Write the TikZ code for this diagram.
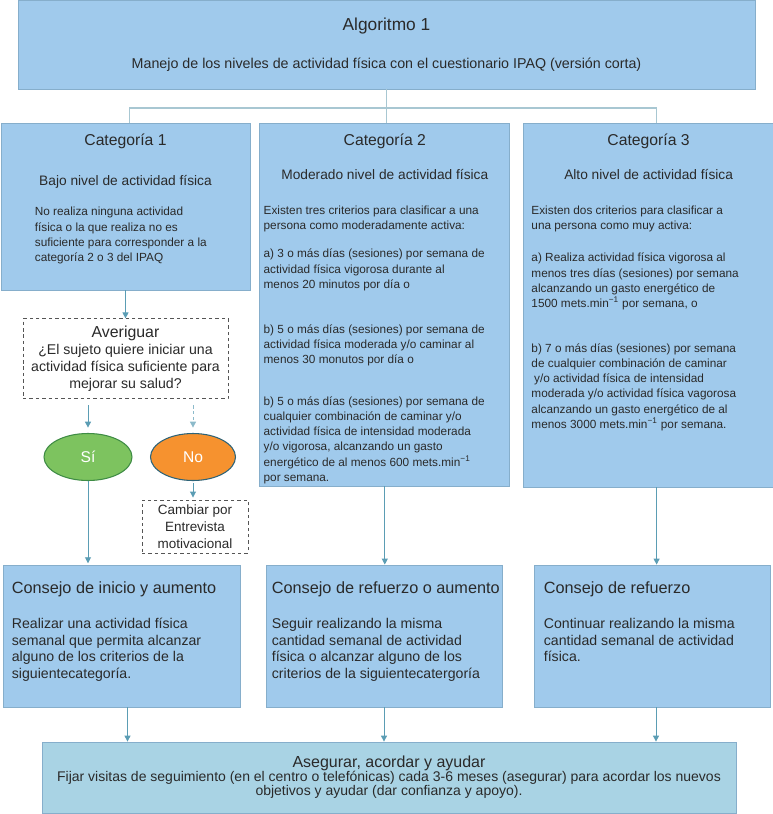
\documentclass[tikz,border=0pt]{standalone}
\usepackage{fontspec}
\setmainfont{Liberation Sans}
\usetikzlibrary{positioning,arrows.meta,shapes.geometric}
\definecolor{cBox}{HTML}{A0CAEC}
\definecolor{cEdge}{HTML}{86AECB}
\definecolor{cFoot}{HTML}{A9D3E4}
\definecolor{cArr}{HTML}{5B9DB4}
\definecolor{cTree}{HTML}{A8C7D2}
\definecolor{cSi}{HTML}{7DC35F}
\definecolor{cSiE}{HTML}{3F8C45}
\definecolor{cNo}{HTML}{F6922F}
\definecolor{cNoE}{HTML}{2D6378}
\definecolor{cTxt}{HTML}{2A2A2A}
\definecolor{cDash}{HTML}{555555}
\newcommand{\minusone}{\textsuperscript{\char"2212 1}}

\begin{document}
\begin{tikzpicture}[x=0.75pt,y=-0.75pt,text=cTxt,
  bx/.style={draw=cEdge,fill=cBox,line width=.6pt,inner sep=0pt},
  ft/.style={bx,fill=cFoot},
  dq/.style={draw=cDash,dash pattern=on 2.6pt off 2.2pt,line width=.7pt,fill=white,inner sep=0pt,align=center,font=\fontsize{10.6}{12.75}\selectfont},
  ov/.style={ellipse,inner sep=0pt,line width=.8pt,minimum height=35.25pt,font=\fontsize{11.7}{14}\selectfont},
  hd/.style={font=\fontsize{11.8}{14}\selectfont,inner sep=0pt},
  sb/.style={font=\fontsize{10.3}{12}\selectfont,inner sep=0pt},
  tx/.style={font=\fontsize{8.85}{11.4}\selectfont,align=left,inner sep=0pt},
  cx/.style={font=\fontsize{10.6}{12.5}\selectfont,align=left,inner sep=0pt},
  ar/.style={-{Triangle[length=4.5pt,width=4.5pt]},cArr,line width=.7pt},
  tr/.style={cTree,line width=1.1pt}]
\useasboundingbox (0,0) rectangle (773,814);

% header
\node[bx,minimum width=552.75pt,minimum height=66.75pt,align=center,font=\fontsize{10.7}{12.8}\selectfont] (alg) at (386.5,44.5)
  {{\fontsize{13}{15}\selectfont Algoritmo 1}\\[15.7pt]Manejo de los niveles de actividad física con el cuestionario IPAQ (versión corta)};

% the three categories
\node[bx,minimum width=186.75pt,minimum height=125.25pt] (cat1) at (125.5,206.5) {};
\node[bx,right=6.75pt of cat1.north east,anchor=north west,minimum width=187.5pt,minimum height=272.25pt] (cat2) {};
\node[bx,right=9.75pt of cat2.north east,anchor=north west,minimum width=187.5pt,minimum height=273pt] (cat3) {};

\node[hd,below=14.25pt of cat1.north,anchor=center] (cat1h) {Categoría 1};
\node[sb,below=44.25pt of cat1.north,anchor=center] (cat1s) {Bajo nivel de actividad física};
\node[tx,below right=63.4pt and 25.5pt of cat1.north west] (cat1t)
  {No realiza ninguna actividad\\física o la que realiza no es\\suficiente para corresponder a la\\categoría 2 o 3 del IPAQ};

\node[hd,below=14.25pt of cat2.north,anchor=center] (cat2h) {Categoría 2};
\node[sb,below=39pt of cat2.north,anchor=center] (cat2s) {Moderado nivel de actividad física};
\node[tx,below right=62.5pt and 3pt of cat2.north west] (cat2t)
  {Existen tres criterios para clasificar a una\\persona como moderadamente activa:\\[9.5pt]
   a) 3 o más días (sesiones) por semana de\\actividad física vigorosa durante al\\menos 20 minutos por día o\\[22.25pt]
   b) 5 o más días (sesiones) por semana de\\actividad física moderada y/o caminar al\\menos 30 monutos por día o\\[20pt]
   b) 5 o más días (sesiones) por semana de\\cualquier combinación de caminar y/o\\actividad física de intensidad moderada\\y/o vigorosa, alcanzando un gasto\\energético de al menos 600 mets.min\minusone\\por semana.};

\node[hd,below=14.25pt of cat3.north,anchor=center] (cat3h) {Categoría 3};
\node[sb,below=39pt of cat3.north,anchor=center] (cat3s) {Alto nivel de actividad física};
\node[tx,below right=62.5pt and 6pt of cat3.north west] (cat3t)
  {Existen dos criterios para clasificar a\\una persona como muy activa:\\[12.5pt]
   a) Realiza actividad física vigorosa al\\menos tres días (sesiones) por semana\\alcanzando un gasto energético de\\1500 mets.min\minusone{} por semana, o\\[22.25pt]
   b) 7 o más días (sesiones) por semana\\de cualquier combinación de caminar\\\hspace{2pt}y/o actividad física de intensidad\\moderada y/o actividad física vagorosa\\alcanzando un gasto energético de al\\menos 3000 mets.min\minusone{} por semana.};

% branch of category 1
\node[dq,below=21pt of cat1,minimum width=153.75pt,minimum height=60pt] (aver)
  {{\fontsize{11.9}{12.75}\selectfont Averiguar}\\¿El sujeto quiere iniciar una\\actividad física suficiente para\\mejorar su salud?};
\node[ov,draw=cSiE,fill=cSi,text=white,minimum width=66pt] (si) at (88,457) {Sí};
\node[ov,draw=cNoE,fill=cNo,text=white,minimum width=63.75pt] (no) at (193,457) {No};
\node[dq,minimum width=79.5pt,minimum height=39.75pt,font=\fontsize{10.1}{12.75}\selectfont] (camb) at (195,526.5)
  {Cambiar por\\Entrevista\\motivacional};

% advice boxes
\node[bx,minimum width=177.75pt,minimum height=106.5pt] (c1) at (121.5,636) {};
\node[bx,minimum width=177pt,minimum height=106.5pt] (c2) at (384,636) {};
\node[bx,minimum width=177pt,minimum height=106.5pt] (c3) at (652,636) {};
\node[cx,below right=12.5pt and 6.75pt of c1.north west] (c1t)
  {{\fontsize{12.2}{14}\selectfont Consejo de inicio y aumento}\\[14pt]Realizar una actividad física\\semanal que permita alcanzar\\alguno de los criterios de la\\siguientecategoría.};
\node[cx,below right=12.5pt and 4.5pt of c2.north west] (c2t)
  {{\fontsize{12.2}{14}\selectfont Consejo de refuerzo o aumento}\\[14pt]Seguir realizando la misma\\cantidad semanal de actividad\\física o alcanzar alguno de los\\criterios de la siguientecatergoría};
\node[cx,below right=12.5pt and 7.5pt of c3.north west] (c3t)
  {{\fontsize{12.2}{14}\selectfont Consejo de refuerzo}\\[14pt]Continuar realizando la misma\\cantidad semanal de actividad\\física.};

\node[ft,minimum width=520.5pt,minimum height=53.25pt,align=center,font=\fontsize{10.5}{10.6}\selectfont] (aseg) at (389,777.5)
  {{\fontsize{12}{13}\selectfont Asegurar, acordar y ayudar}\\Fijar visitas de seguimiento (en el centro o telefónicas) cada 3-6 meses (asegurar) para acordar los nuevos\\objetivos y ayudar (dar confianza y apoyo).};

% tree under the header
\coordinate (bus) at (386.5,108);
\draw[tr] (alg.south) -- (alg.south |- cat2.north);
\draw[tr] ([xshift=3pt]cat1.north) |- (bus) -| ([xshift=6pt]cat3.north);

% arrows
\draw[ar] (cat1) -- (aver);
\draw[ar,shorten <=4.5pt,shorten >=4pt] (aver.south -| si.north) -- (si.north);
\draw[ar,cArr!70,dash pattern=on 2.4pt off 2pt,shorten <=4.5pt,shorten >=4pt] (aver.south -| no.north) -- (no.north);
\draw[ar,shorten <=1.5pt,shorten >=1.5pt] (no.south) -- (no.south |- camb.north);
\draw[ar,shorten >=1pt] (si.south) -- (si.south |- c1.north);
\draw[ar] (cat2.south) -- (cat2.south |- c2.north);
\draw[ar] ([xshift=6pt]cat3.south) -- ([xshift=6pt]cat3.south |- c3.north);
\draw[ar] ([xshift=4.5pt]c1.south) -- ([xshift=4.5pt]c1.south |- aseg.north);
\draw[ar] (c2.south) -- (c2.south |- aseg.north);
\draw[ar] ([xshift=3pt]c3.south) -- ([xshift=3pt]c3.south |- aseg.north);
\end{tikzpicture}
\end{document}
